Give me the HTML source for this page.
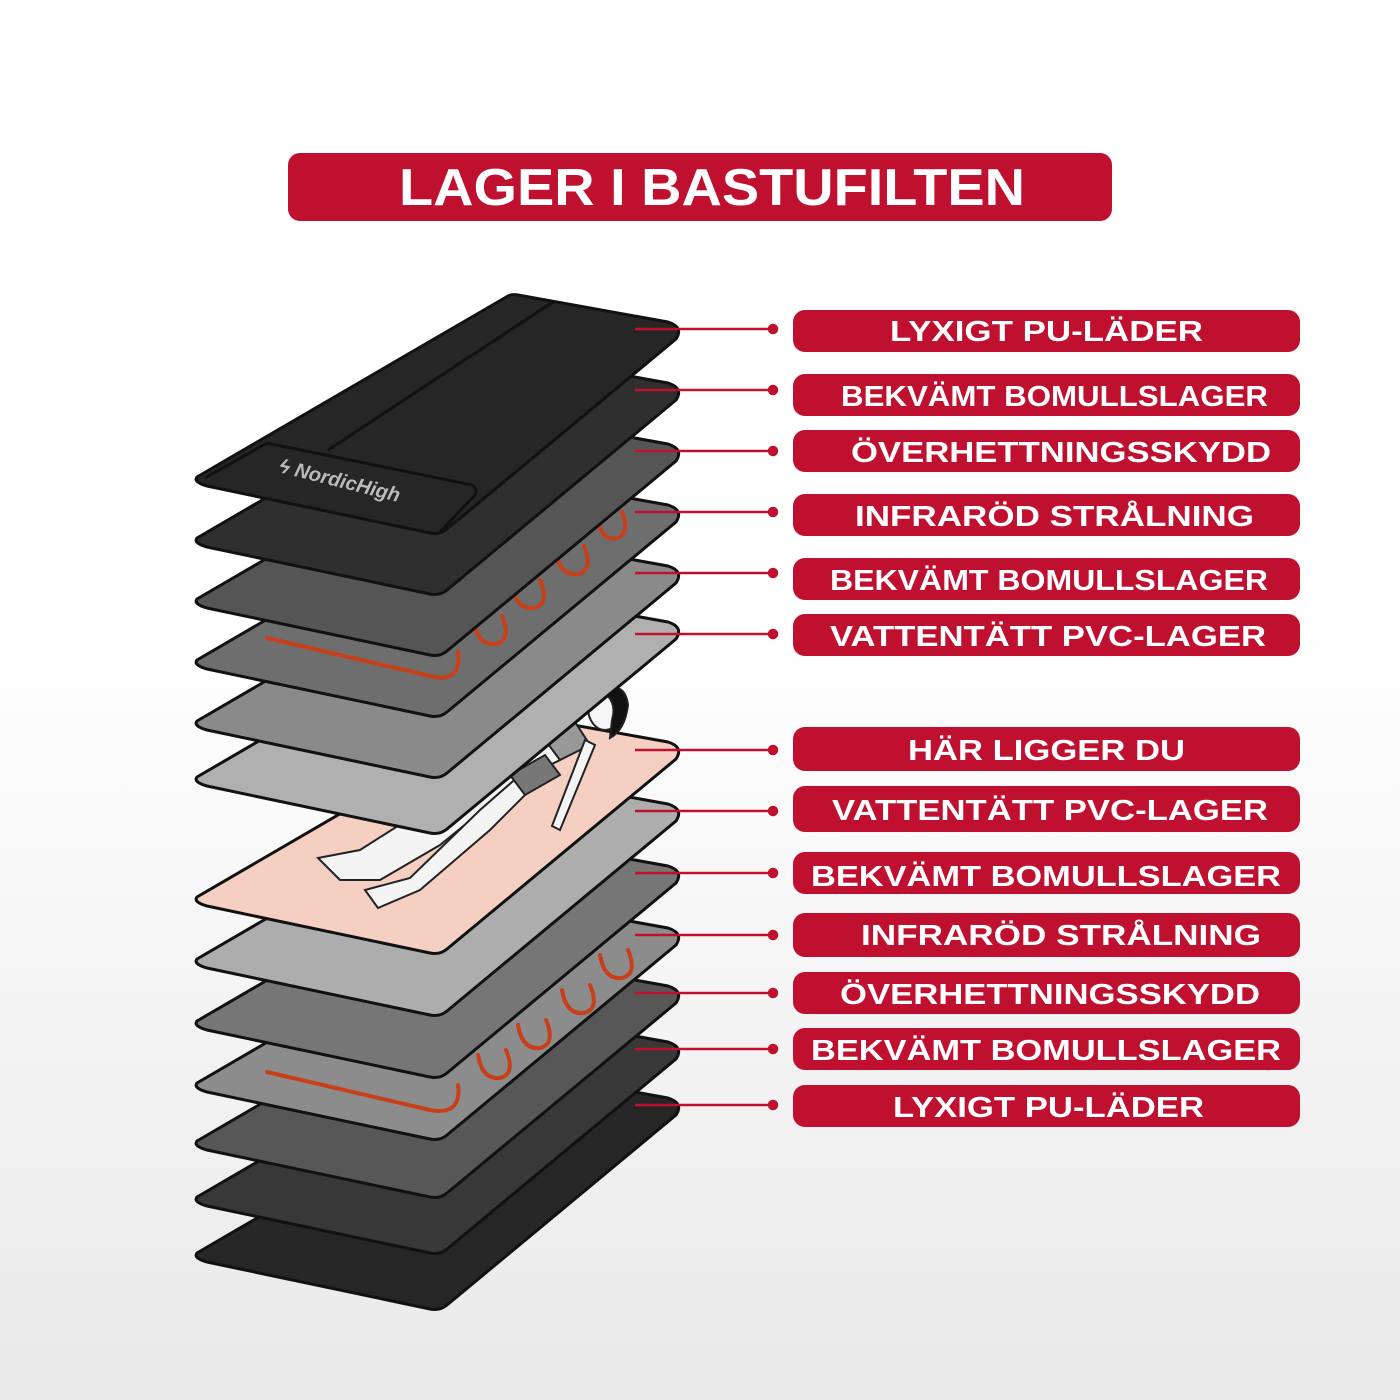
<!DOCTYPE html>
<html><head><meta charset="utf-8"><style>
html,body{margin:0;padding:0;width:1400px;height:1400px;overflow:hidden;background:linear-gradient(#ffffff 0%,#ffffff 45%,#e9e9e9 100%);}
svg{display:block}
</style></head><body>
<svg width="1400" height="1400" viewBox="0 0 1400 1400" xmlns="http://www.w3.org/2000/svg" font-family="Liberation Sans, sans-serif" font-weight="bold">
<defs>
<path id="L" d="M197,477 L508,296 Q512,294 518,295 L668,322 Q684,327 676,339 L447,529 Q440,535 430,533 L207,486 Q193,482 197,477 Z" stroke="#111" stroke-width="3" stroke-linejoin="round"/>
</defs>
<!-- title -->
<rect x="288" y="153" width="824" height="68" rx="12" fill="#c01030"/>
<text x="712" y="205" font-size="52" fill="#fff" text-anchor="middle" textLength="626" lengthAdjust="spacingAndGlyphs">LAGER I BASTUFILTEN</text>

<!-- layers bottom to top -->
<use href="#L" transform="translate(0,776)" fill="#262626"/>
<use href="#L" transform="translate(0,720)" fill="#383838"/>
<use href="#L" transform="translate(0,664)" fill="#575757"/>
<use href="#L" transform="translate(0,606)" fill="#8c8c8c"/>
<g fill="none" stroke="#c8401a" stroke-width="4" stroke-linecap="round">
<path d="M267,1072 L430,1110 Q462,1116 458,1085"/>
<path d="M478,1055 Q482,1080 500,1078 Q516,1074 506,1050"/>
<path d="M518,1025 Q522,1050 540,1048 Q556,1044 546,1020"/>
<path d="M562,990 Q566,1015 584,1013 Q600,1009 590,985"/>
<path d="M600,955 Q604,980 622,978 Q638,974 628,950"/>
</g>
<use href="#L" transform="translate(0,544)" fill="#767676"/>
<use href="#L" transform="translate(0,482)" fill="#adadad"/>
<use href="#L" transform="translate(0,420)" fill="#f5cfc2"/>
<!-- person -->
<g stroke="#222" stroke-width="2" fill="#f4f4f4">
<path d="M318,858 L360,850 L470,780 L500,770 L520,765 L545,735 L570,725 L560,760 L520,780 L440,845 L380,880 L340,880 Z"/>
<path d="M365,890 L410,878 L480,810 L520,775 L530,790 L490,830 L420,890 L378,908 Z"/>
<path d="M510,775 L545,755 L560,775 L525,795 Z" fill="#777"/>
<path d="M545,740 L575,722 L590,745 L560,760 Z" fill="#999"/>
<path d="M585,740 L595,745 L560,830 L552,826 Z"/>
<ellipse cx="605" cy="708" rx="17" ry="22" fill="#f6f6f6"/>
<path d="M600,690 Q625,680 628,705 Q625,730 610,738 L612,720 Q618,700 600,690 Z" fill="#111"/>
</g>
<use href="#L" transform="translate(0,300)" fill="#b0b0b0"/>
<use href="#L" transform="translate(0,244)" fill="#8a8a8a"/>
<use href="#L" transform="translate(0,183)" fill="#6e6e6e"/>
<g fill="none" stroke="#c8401a" stroke-width="4" stroke-linecap="round">
<path d="M267,638 L430,676 Q462,684 458,652"/>
<path d="M474,622 Q478,646 496,644 Q512,640 502,616"/>
<path d="M512,585 Q516,610 534,608 Q550,604 540,580"/>
<path d="M556,552 Q560,576 578,574 Q594,570 584,546"/>
<path d="M598,520 Q602,542 618,538 Q630,532 622,512"/>
</g>
<use href="#L" transform="translate(0,122)" fill="#555555"/>
<use href="#L" transform="translate(0,61)" fill="#2f2f2f"/>
<use href="#L" fill="#262626"/>
<path d="M328,450 L553,302" stroke="#111" stroke-width="3"/>
<path d="M205,478 L267,443 L472,485 Q479,490 474,496 L440,532" fill="#262626" stroke="#111" stroke-width="3" stroke-linejoin="round"/>
<text x="0" y="0" font-size="20" fill="#bbb" font-style="italic" transform="translate(278,472) rotate(14)">ϟ NordicHigh</text>

<!-- connectors -->
<g stroke="#c01030" stroke-width="2.5" fill="#c01030">
<line x1="635" y1="329" x2="773" y2="329"/><circle cx="773" cy="329" r="4"/>
<line x1="635" y1="390" x2="773" y2="390"/><circle cx="773" cy="390" r="4"/>
<line x1="635" y1="451" x2="773" y2="451"/><circle cx="773" cy="451" r="4"/>
<line x1="635" y1="512" x2="773" y2="512"/><circle cx="773" cy="512" r="4"/>
<line x1="635" y1="573" x2="773" y2="573"/><circle cx="773" cy="573" r="4"/>
<line x1="635" y1="634" x2="773" y2="634"/><circle cx="773" cy="634" r="4"/>
<line x1="635" y1="750" x2="773" y2="750"/><circle cx="773" cy="750" r="4"/>
<line x1="635" y1="811" x2="773" y2="811"/><circle cx="773" cy="811" r="4"/>
<line x1="635" y1="873" x2="773" y2="873"/><circle cx="773" cy="873" r="4"/>
<line x1="635" y1="935" x2="773" y2="935"/><circle cx="773" cy="935" r="4"/>
<line x1="635" y1="993" x2="773" y2="993"/><circle cx="773" cy="993" r="4"/>
<line x1="635" y1="1049" x2="773" y2="1049"/><circle cx="773" cy="1049" r="4"/>
<line x1="635" y1="1105" x2="773" y2="1105"/><circle cx="773" cy="1105" r="4"/>
</g>

<!-- labels -->
<g fill="#c01030">
<rect x="793" y="310" width="507" height="42" rx="12"/>
<rect x="793" y="374" width="507" height="42" rx="12"/>
<rect x="793" y="430" width="507" height="42" rx="12"/>
<rect x="793" y="494" width="507" height="42" rx="12"/>
<rect x="793" y="558" width="507" height="42" rx="12"/>
<rect x="793" y="614" width="507" height="42" rx="12"/>
<rect x="793" y="727" width="507" height="44" rx="12"/>
<rect x="793" y="786" width="507" height="46" rx="12"/>
<rect x="793" y="852" width="507" height="42" rx="12"/>
<rect x="793" y="913" width="507" height="44" rx="12"/>
<rect x="793" y="972" width="507" height="42" rx="12"/>
<rect x="793" y="1028" width="507" height="42" rx="12"/>
<rect x="793" y="1085" width="507" height="42" rx="12"/>
</g>
<g fill="#fff" font-size="29" lengthAdjust="spacingAndGlyphs">
<text x="890" y="341" textLength="313" lengthAdjust="spacingAndGlyphs">LYXIGT PU-LÄDER</text>
<text x="841" y="406" textLength="427" lengthAdjust="spacingAndGlyphs">BEKVÄMT BOMULLSLAGER</text>
<text x="851" y="462" textLength="420" lengthAdjust="spacingAndGlyphs">ÖVERHETTNINGSSKYDD</text>
<text x="855" y="526" textLength="399" lengthAdjust="spacingAndGlyphs">INFRARÖD STRÅLNING</text>
<text x="830" y="590" textLength="438" lengthAdjust="spacingAndGlyphs">BEKVÄMT BOMULLSLAGER</text>
<text x="830" y="646" textLength="436" lengthAdjust="spacingAndGlyphs">VATTENTÄTT PVC-LAGER</text>
<text x="908" y="760" textLength="277" lengthAdjust="spacingAndGlyphs">HÄR LIGGER DU</text>
<text x="832" y="820" textLength="436" lengthAdjust="spacingAndGlyphs">VATTENTÄTT PVC-LAGER</text>
<text x="811" y="886" textLength="470" lengthAdjust="spacingAndGlyphs">BEKVÄMT BOMULLSLAGER</text>
<text x="861" y="945" textLength="400" lengthAdjust="spacingAndGlyphs">INFRARÖD STRÅLNING</text>
<text x="840" y="1004" textLength="420" lengthAdjust="spacingAndGlyphs">ÖVERHETTNINGSSKYDD</text>
<text x="811" y="1060" textLength="470" lengthAdjust="spacingAndGlyphs">BEKVÄMT BOMULLSLAGER</text>
<text x="893" y="1117" textLength="311" lengthAdjust="spacingAndGlyphs">LYXIGT PU-LÄDER</text>
</g>
</svg>
</body></html>
